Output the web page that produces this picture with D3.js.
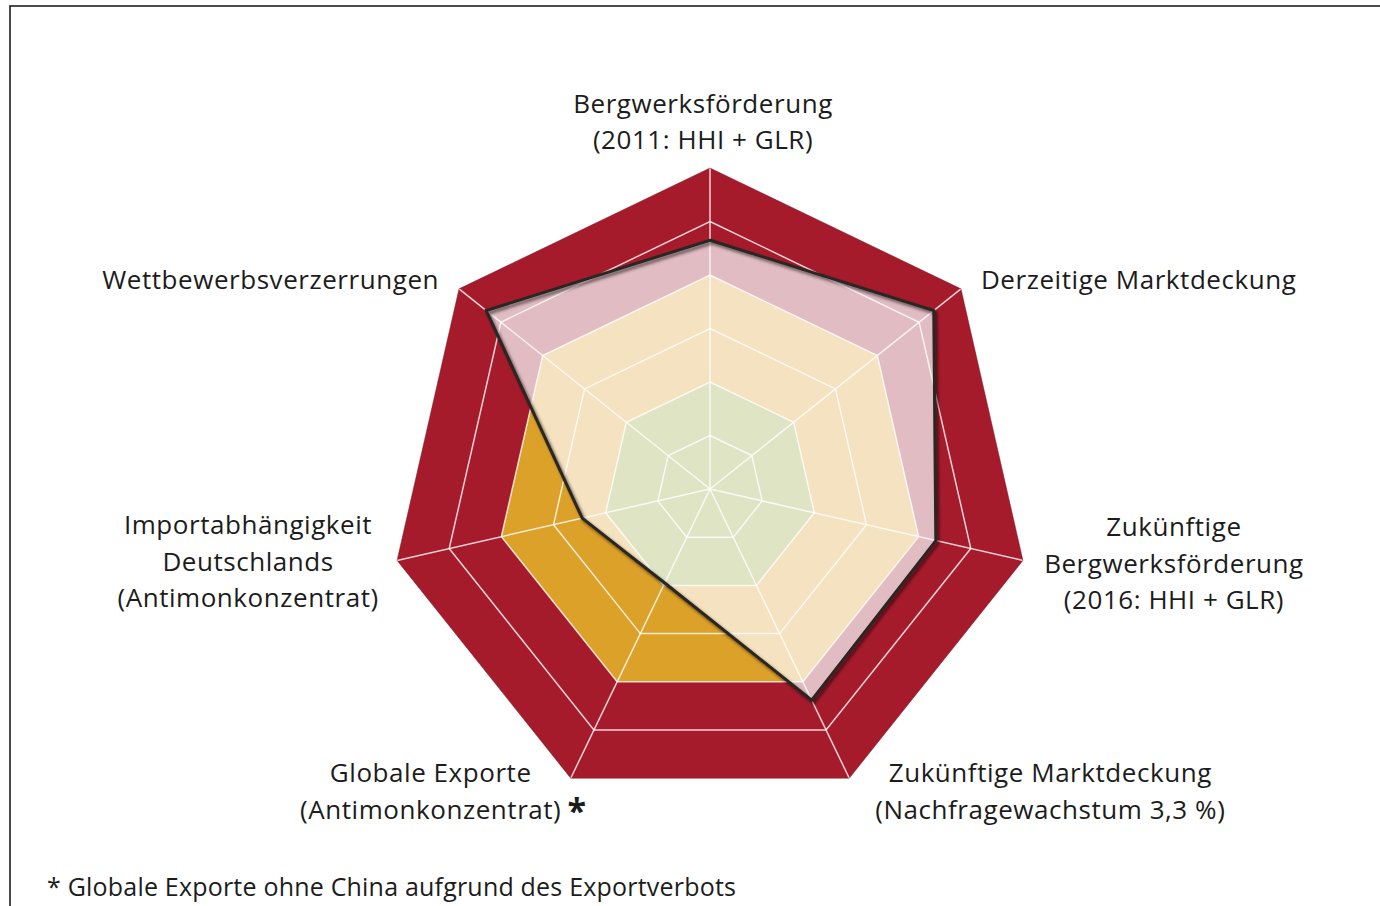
<!DOCTYPE html>
<html>
<head>
<meta charset="utf-8">
<script src="https://cdn.jsdelivr.net/npm/d3@7"></script>
<style>
  html, body { margin: 0; padding: 0; background: #fff; }
  svg { display: block; }
  text { font-family: "Open Sans", "DejaVu Sans", sans-serif; fill: #1c1c1c; }
</style>
</head>
<body>
<svg id="chart" width="1380" height="906"></svg>
<script>
// ---- data ----
const axisLabels = [
  ["Bergwerksförderung", "(2011: HHI + GLR)"],
  ["Derzeitige Marktdeckung"],
  ["Zukünftige", "Bergwerksförderung", "(2016: HHI + GLR)"],
  ["Zukünftige Marktdeckung", "(Nachfragewachstum 3,3 %)"],
  ["Globale Exporte", "(Antimonkonzentrat)"],
  ["Importabhängigkeit", "Deutschlands", "(Antimonkonzentrat)"],
  ["Wettbewerbsverzerrungen"]
];
const values = [4.65, 5.35, 4.33, 4.38, 1.95, 2.45, 5.35];
const gridLevels = [1, 2, 3, 4, 5, 6];
const bandEdges = [2, 4, 6];          // upper edge of each risk band
const footnote = "* Globale Exporte ohne China aufgrund des Exportverbots";

// ---- layout ----
const svg = d3.select("#chart");
const cx = 710, cy = 489, R = 321;
const n = axisLabels.length;
const r = d3.scaleLinear().domain([0, 6]).range([0, R]);
const angle = d3.scaleLinear().domain([0, n]).range([0, 2 * Math.PI]);
const pt = (i, v) => [cx + r(v) * Math.sin(angle(i)), cy - r(v) * Math.cos(angle(i))];
const ring = v => d3.range(n).map(i => pt(i, v));
const line = d3.line().curve(d3.curveLinearClosed);

// frame
svg.append("rect").attr("x", 10).attr("y", 6).attr("width", 1400).attr("height", 950)
  .attr("fill", "none").attr("stroke", "#111").attr("stroke-width", 1.5);

const defs = svg.append("defs");
defs.append("clipPath").attr("id", "dataClip")
  .append("path").attr("d", line(values.map((v, i) => pt(i, v))));
const f = defs.append("filter").attr("id", "shadow").attr("x", "-10%").attr("y", "-10%")
  .attr("width", "120%").attr("height", "120%");
f.append("feDropShadow").attr("dx", 2).attr("dy", 2.5).attr("stdDeviation", 1.6)
  .attr("flood-color", "#000").attr("flood-opacity", 0.6);

const outerColors = d3.scaleOrdinal().domain(bandEdges).range(["#dfe4c5", "#dca128", "#a51b2c"]);
const innerColors = d3.scaleOrdinal().domain(bandEdges).range(["#dfe4c5", "#f4e2c0", "#e1bcc2"]);

const bandsDesc = bandEdges.slice().sort((a, b) => b - a);
svg.append("g").selectAll("path").data(bandsDesc).join("path")
  .attr("d", d => line(ring(d))).attr("fill", d => outerColors(d));
svg.append("g").attr("clip-path", "url(#dataClip)").selectAll("path").data(bandsDesc).join("path")
  .attr("d", d => line(ring(d))).attr("fill", d => innerColors(d));

// grid
const grid = svg.append("g").attr("fill", "none").attr("stroke", "#fff").attr("stroke-opacity", 0.8)
  .attr("stroke-width", 1.5);
grid.selectAll("path.ring").data(gridLevels.slice(0, -1)).join("path").attr("class", "ring")
  .attr("d", d => line(ring(d)));
grid.selectAll("line").data(d3.range(n)).join("line")
  .attr("x1", cx).attr("y1", cy)
  .attr("x2", i => pt(i, 6)[0]).attr("y2", i => pt(i, 6)[1]);
svg.append("path").attr("d", line(ring(6))).attr("fill", "none")
  .attr("stroke", "#7a1420").attr("stroke-width", 0.8).attr("stroke-opacity", 0.6);

// data line
svg.append("path").attr("d", line(values.map((v, i) => pt(i, v))))
  .attr("fill", "none").attr("stroke", "#2a2521").attr("stroke-width", 3)
  .attr("stroke-linejoin", "miter").attr("filter", "url(#shadow)");

// labels
const fs = 26, lh = 36.5;
const labelPos = [
  {dx: -7, dy: -28, anchor: "middle", align: "bottom"},
  {dx: 20, dy: -9, anchor: "start", align: "middle"},
  {dx: 151, dy: 3, anchor: "middle", align: "middle"},
  {dx: 201, dy: -5, anchor: "middle", align: "top"},
  {dx: -140, dy: -5, anchor: "middle", align: "top"},
  {dx: -149, dy: 1, anchor: "middle", align: "middle"},
  {dx: -20, dy: -9, anchor: "end", align: "middle"}
];
const lab = svg.append("g").attr("font-size", fs).attr("letter-spacing", 0.55);
axisLabels.forEach((lines, i) => {
  const [x, y] = pt(i, 6);
  const p = labelPos[i];
  const k = lines.length;
  let y0;
  if (p.align === "bottom") y0 = y + p.dy - (k - 1) * lh;
  else if (p.align === "top") y0 = y + p.dy;
  else y0 = y + p.dy - (k - 1) * lh / 2;
  const t = lab.append("text").attr("text-anchor", p.anchor);
  lines.forEach((s, j) => {
    t.append("tspan").attr("x", x + p.dx).attr("y", y0 + j * lh).attr("dy", "0.35em").text(s);
  });
  if (i === 4) {
    svg.append("text").attr("x", x + p.dx + 146).attr("y", y0 + lh + 13)
      .attr("font-size", 34).attr("font-weight", "bold").attr("text-anchor", "middle").text("*");
  }
});

svg.append("text").attr("x", 47).attr("y", 887).attr("dy", "0.35em").attr("font-size", 25)
  .attr("letter-spacing", 0.2).text(footnote);
</script>
</body>
</html>
